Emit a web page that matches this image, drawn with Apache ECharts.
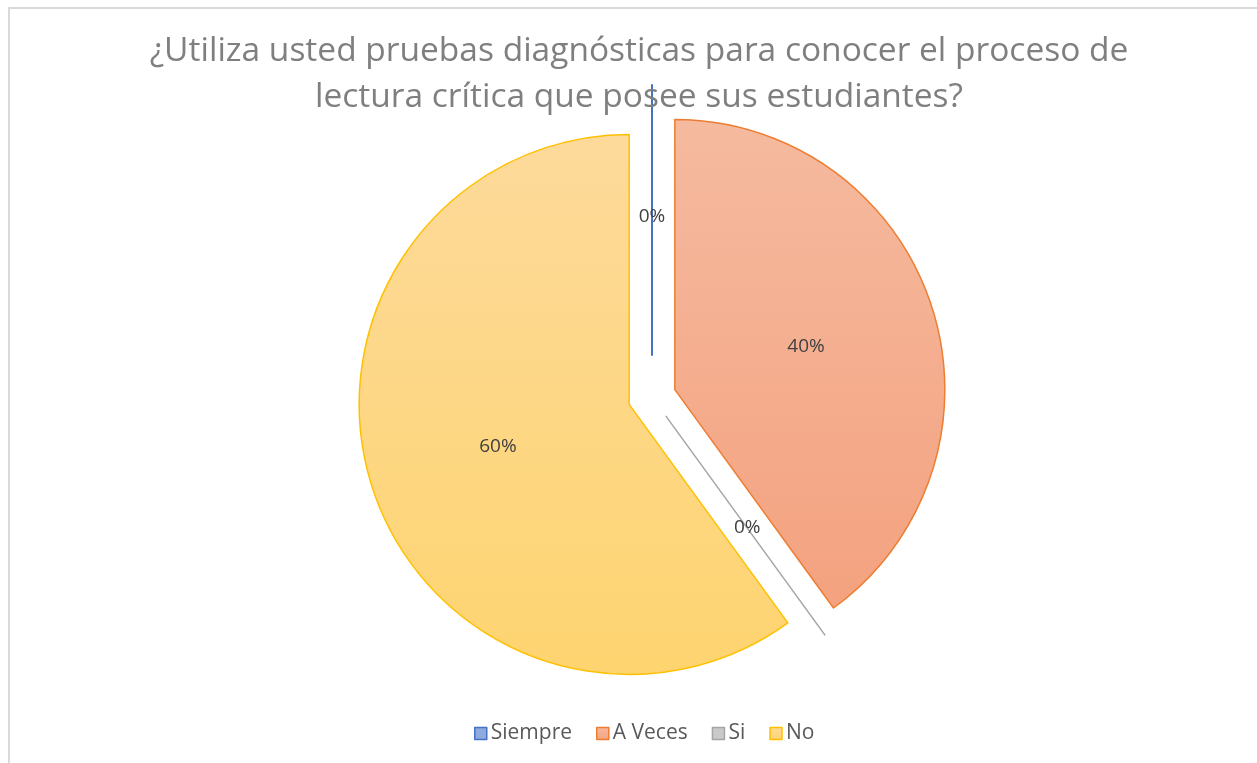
<!DOCTYPE html>
<html>
<head>
<meta charset="utf-8">
<script src="https://cdn.jsdelivr.net/npm/echarts@6/dist/echarts.min.js"></script>
<style>
  html, body { margin: 0; padding: 0; background: #fff; }
  #chart { width: 1257px; height: 763px; }
  #frame { position: absolute; left: 8px; top: 7px; right: -4px; bottom: -4px;
           border-left: 2px solid #d9d9d9; border-top: 2px solid #d9d9d9; pointer-events: none; }
</style>
</head>
<body>
<div id="chart"></div>
<div id="frame"></div>
<script>
const categories = ["Siempre", "A Veces", "Si", "No"];
const values = [0, 40, 0, 60];
const fillTop = ["#8FAADC", "#F5BA9F", "#C9C9C9", "#FDDA9B"];
const fillBottom = ["#8FAADC", "#F4A27F", "#C9C9C9", "#FED470"];
const lineColors = ["#4472C4", "#ED7D31", "#A5A5A5", "#FFC000"];

const FONT = "'Open Sans', 'Liberation Sans', sans-serif";
const chart = echarts.init(document.getElementById("chart"));

function fill(i) {
  return new echarts.graphic.LinearGradient(0, 0, 0, 1, [
    { offset: 0, color: fillTop[i] },
    { offset: 1, color: fillBottom[i] },
  ]);
}

const hidden = {
  color: "rgba(0,0,0,0)",
  borderWidth: 0,
};

// main series: everything except Siempre, which gets its own bigger explosion
const mainData = categories.map((name, i) => {
  const style = i === 0 ? hidden : { color: fill(i), borderColor: lineColors[i], borderWidth: 1.5 };
  return {
    name,
    value: values[i],
    selected: true,
    itemStyle: style,
    select: { itemStyle: style },
    label: { show: i !== 0 },
  };
});

const sideData = categories.map((name, i) => {
  const style = i === 0 ? { color: fill(i), borderColor: lineColors[i], borderWidth: 2 } : hidden;
  return {
    name,
    value: values[i],
    selected: true,
    itemStyle: style,
    select: { itemStyle: style },
    label: { show: i === 0 },
  };
});

const pieBase = {
  type: "pie",
  center: [652, 397],
  radius: 270,
  startAngle: 90,
  clockwise: true,
  selectedMode: "multiple",
  avoidLabelOverlap: false,
  emphasis: { disabled: true },
  label: {
    position: "inside",
    formatter: "{d}%",
    color: "#404040",
    fontSize: 19,
    fontFamily: FONT,
  },
  labelLine: { show: false },
  animation: false,
};

chart.setOption({
  animation: false,
  title: {
    text: "¿Utiliza usted pruebas diagnósticas para conocer el proceso de\nlectura crítica que posee sus estudiantes?",
    left: 634,
    textAlign: "center",
    top: 23,
    textStyle: {
      color: "#7f7f7f",
      fontSize: 33.5,
      fontWeight: "normal",
      fontFamily: FONT,
      lineHeight: 46,
    },
  },
  legend: {
    top: 718,
    left: 469,
    icon: "rect",
    itemWidth: 12,
    itemHeight: 12,
    itemGap: 24,
    selectedMode: false,
    textStyle: { color: "#595959", fontSize: 21, fontFamily: FONT, padding: [0, 0, 0, -1] },
    data: categories.map((name, i) => ({
      name,
      itemStyle: { color: fill(i), borderColor: lineColors[i], borderWidth: 1.5 },
    })),
  },
  series: [
    Object.assign({}, pieBase, { name: "main", selectedOffset: 24, data: mainData }),
    Object.assign({}, pieBase, { name: "siempre", selectedOffset: 42, silent: true, data: sideData }),
  ],
});
</script>
</body>
</html>
